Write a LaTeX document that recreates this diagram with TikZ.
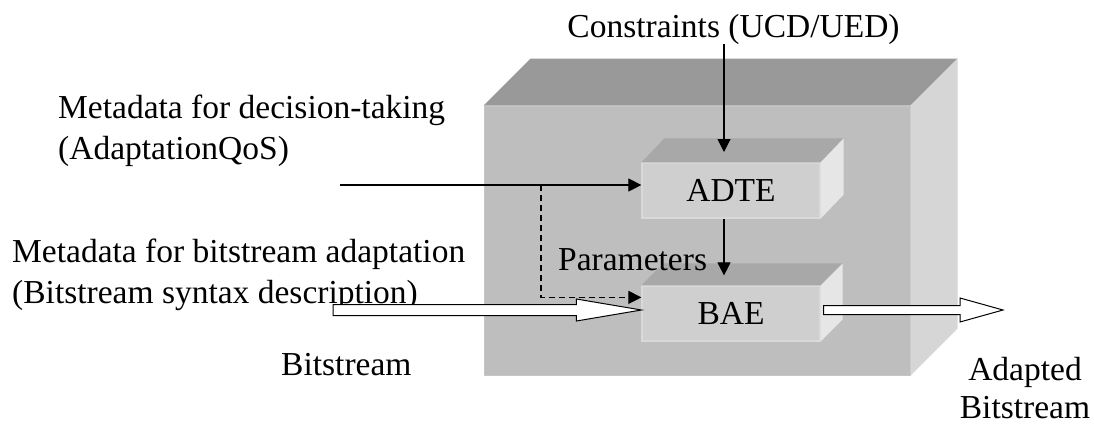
\documentclass[tikz,border=0pt]{standalone}
\usepackage{fontspec}
\setmainfont{Liberation Serif}
\usetikzlibrary{arrows.meta,calc}

\definecolor{frameTop}{HTML}{999999}
\definecolor{frameFront}{HTML}{BEBEBE}
\definecolor{frameSide}{HTML}{D6D6D6}
\definecolor{blockTop}{HTML}{A8A8A8}
\definecolor{blockFront}{HTML}{CFCFCF}
\definecolor{blockSide}{HTML}{E6E6E6}

\tikzset{
  lbl/.style={inner sep=0pt, font=\fontsize{33.5}{41}\selectfont},
  framefront/.style={fill=frameFront, draw=frameFront!90!white, line width=1pt, inner sep=0pt},
  blockfront/.style={fill=blockFront, draw=blockFront!80!white, line width=1.2pt, inner sep=0pt,
    minimum width=178pt, minimum height=55pt, font=\fontsize{33.5}{41}\selectfont},
  flow/.style={line width=1.1pt, -{Triangle[length=13pt,width=13pt]}},
  advice/.style={flow, dash pattern=on 6pt off 4pt},
  hollow/.style={fill=white, draw=black, line width=1pt, line join=miter},
}

\begin{document}
\begin{tikzpicture}[x=1pt,y=-1pt]
\useasboundingbox (0,0) rectangle (1094,423);

% adaptation engine housing
\node[framefront, minimum width=426pt, minimum height=269pt] (frame) at (697,240.5) {};
\fill[frameTop] (frame.north west) -- ++(47,-47) -- ($(frame.north east)+(47,-47)$) -- (frame.north east) -- cycle;
\fill[frameSide] (frame.north east) -- ++(47,-47) -- ($(frame.south east)+(47,-47)$) -- (frame.south east) -- cycle;

% decision-taking engine
\node[blockfront] (adte) at (731,190.5) {ADTE};
\fill[blockTop] (adte.north west) -- ++(23,-24) -- ($(adte.north east)+(23,-24)$) -- (adte.north east) -- cycle;
\fill[blockSide] (adte.north east) -- ++(23,-24) -- ($(adte.south east)+(23,-24)$) -- (adte.south east) -- cycle;

% bitstream adaptation engine
\node[blockfront] (bae) at (731,313.5) {BAE};
\fill[blockTop] (bae.north west) -- ++(22,-22) -- ($(bae.north east)+(22,-22)$) -- (bae.north east) -- cycle;
\fill[blockSide] (bae.north east) -- ++(22,-22) -- ($(bae.south east)+(22,-22)$) -- (bae.south east) -- cycle;

% labels (base anchor of a two-line label sits on its last line)
\node[lbl, anchor=base] (cons) at (733.5,37) {Constraints (UCD/UED)};
\node[lbl, anchor=base west, align=left] (qos) at (58,159) {Metadata for decision-taking\\(AdaptationQoS)};
\node[lbl, anchor=base west, align=left] (bsd) at (12,303) {Metadata for bitstream adaptation\\(Bitstream syntax description)};
\node[lbl, anchor=base west] (param) at (558,270) {Parameters};
\node[lbl, anchor=base west] (bits) at (281,375) {Bitstream};
\node[lbl, anchor=base, align=center] (outlbl) at (1025,418) {Adapted\\[-3pt]Bitstream};

% connector end points
\coordinate (col) at (724,152);
\coordinate (qosStart) at (340,185);
\coordinate (split) at (541,185);
\coordinate (bsIn) at (333,310);
\coordinate (baeIn) at ($(bae.west)+(0,-3.5)$);
\coordinate (baeOut) at ($(bae.east)+(3,-3.5)$);
\coordinate (outTip) at (1003,310);

% control flow
\draw[flow] (cons.south -| col) -- (col);
\draw[flow] (qosStart) -- (qosStart -| adte.west);
\draw[advice] (split) |- ($(bae.north west)+(0,12)$);
\draw[flow] (adte.south -| col) -- ($(bae.north -| col)+(0,-10)$);

% bitstream in and out
\draw[hollow] ($(bsIn)+(0,-5.5)$) -- ($(baeIn)+(-65,-5.5)$) -- ($(baeIn)+(-65,-11)$) -- (baeIn)
  -- ($(baeIn)+(-65,11)$) -- ($(baeIn)+(-65,5.5)$) -- ($(bsIn)+(0,5.5)$) -- cycle;
\draw[hollow] ($(baeOut)+(0,-4.5)$) -- ($(outTip)+(-43,-4.5)$) -- ($(outTip)+(-43,-12)$) -- (outTip)
  -- ($(outTip)+(-43,12)$) -- ($(outTip)+(-43,4.5)$) -- ($(baeOut)+(0,4.5)$) -- cycle;
\end{tikzpicture}
\end{document}
